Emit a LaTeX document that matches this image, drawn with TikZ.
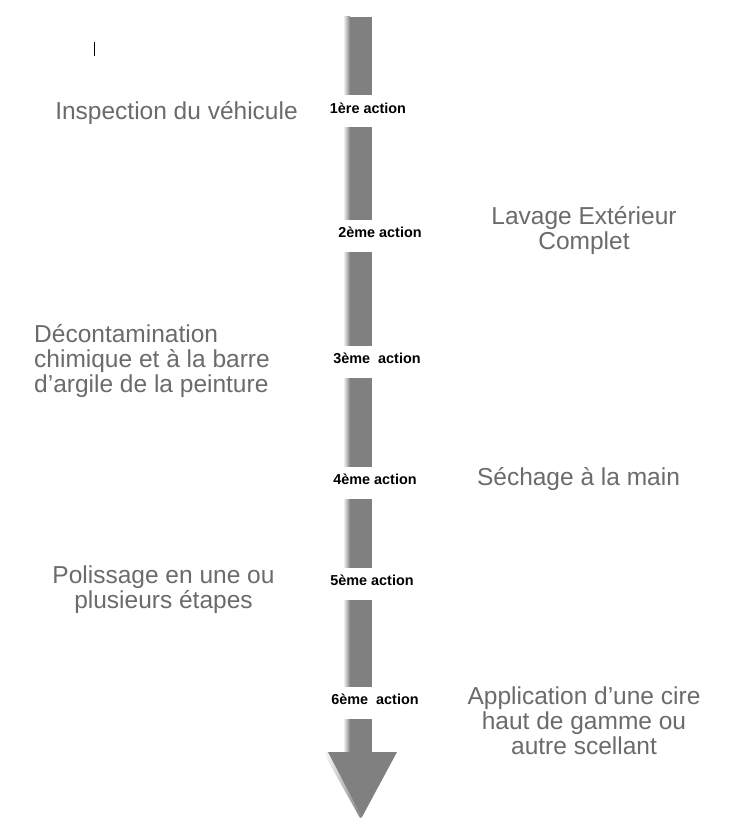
\documentclass[tikz,border=0pt]{standalone}
\usepackage{fontspec}
\setmainfont{Liberation Sans}
\definecolor{shaftgray}{HTML}{808080}
\definecolor{txtgray}{HTML}{6B6B6B}
\begin{document}
\begin{tikzpicture}[x=1pt,y=-1pt,
  step text/.style={text=txtgray, font=\fontsize{24.5}{25}\selectfont, align=center, inner sep=0pt},
  actlabel/.style={fill=white, inner sep=0pt, minimum height=32pt, minimum width=92pt,
     font=\fontsize{14.4}{15}\selectfont\bfseries, text=black, text height=10.5pt, text depth=7pt}]
\useasboundingbox (0,0) rectangle (739,821);
\fill[white] (0,0) rectangle (739,821);
% shaft with soft left shadow
\shade[left color=white, right color=shaftgray] (343,17) rectangle (350,752);
\fill[shaftgray] (350,17) rectangle (372,752);
% head with soft left shadow
\shade[left color=white, right color=shaftgray] (323,752) -- (330,752) -- (362,817) -- (360,818) -- cycle;
\fill[shaftgray] (328,752) -- (397,752) -- (362,817) -- cycle;
% action labels (white gaps)
\node[actlabel] (a1) at (368,111.5) {1ère action};
\node[actlabel] (a2) at (380,236) {2ème action};
\node[actlabel] (a3) at (377,361.5) {3ème\ \ action};
\node[actlabel] (a4) at (375,482.5) {4ème action};
\node[actlabel] (a5) at (372,584) {5ème action};
\node[actlabel] (a6) at (375,703) {6ème\ \ action};
% stray mark
\draw[black, line width=0.9pt] (94.5,42) -- (94.5,56);
% step texts
\node[step text] (s1) at (176.5,113) {Inspection du véhicule};
\node[step text] (s2) at (584,231) {Lavage Extérieur\\Complet};
\node[step text, align=left, anchor=west] (s3) at (34,361.5) {Décontamination\\chimique et à la barre\\d’argile de la peinture};
\node[step text] (s4) at (578.5,479) {Séchage à la main};
\node[step text] (s5) at (163.5,590) {Polissage en une ou\\plusieurs étapes};
\node[step text] (s6) at (584,720.5) {Application d’une cire\\haut de gamme ou\\autre scellant};
\end{tikzpicture}
\end{document}
